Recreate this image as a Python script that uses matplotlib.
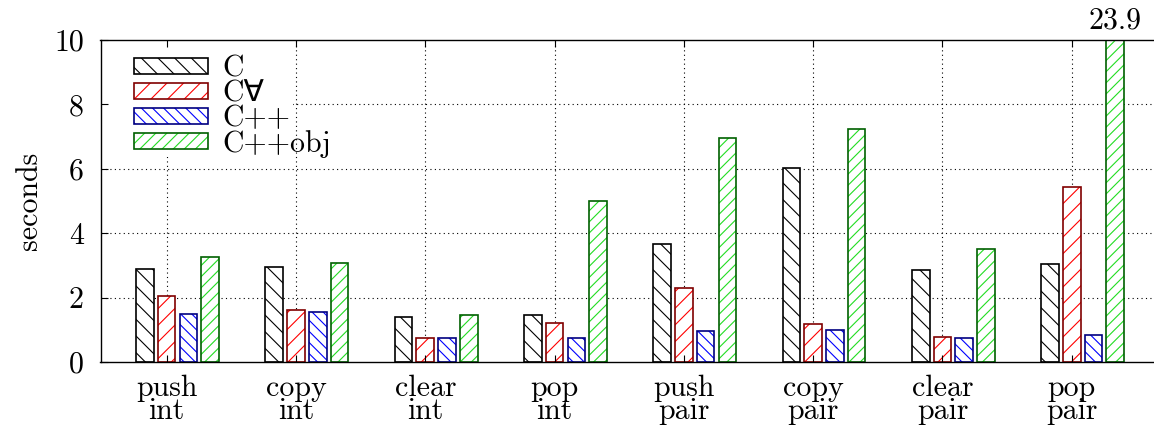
import numpy as np
import matplotlib
matplotlib.use("Agg")
import matplotlib.pyplot as plt
from matplotlib.patches import Rectangle

plt.rcParams['font.family'] = ['cmr10', 'DejaVu Sans']
plt.rcParams['mathtext.fontset'] = 'cm'
plt.rcParams['axes.formatter.use_mathtext'] = True
plt.rcParams['hatch.linewidth'] = 0.8

categories = ["push\nint", "copy\nint", "clear\nint", "pop\nint",
              "push\npair", "copy\npair", "clear\npair", "pop\npair"]
series = ["C", "C\u2200", "C++", "C++obj"]
vals_c      = [2.90, 2.95, 1.40, 1.45, 3.67, 6.03, 2.85, 3.03]
vals_cfa    = [2.05, 1.63, 0.75, 1.20, 2.30, 1.18, 0.77, 5.42]
vals_cpp    = [1.50, 1.55, 0.75, 0.75, 0.95, 1.00, 0.75, 0.83]
vals_cppobj = [3.25, 3.07, 1.45, 5.00, 6.97, 7.23, 3.52, 23.9]
all_vals = [vals_c, vals_cfa, vals_cpp, vals_cppobj]

hatch_colors = ["#000000", "#ff0000", "#0000ff", "#22dd22"]
edge_colors = ["#000000", "#800000", "#000080", "#006000"]
hatches = ["\\\\", "//", "\\\\\\", "///"]

FS = 21.5
fig = plt.figure(figsize=(11.54, 4.33), dpi=100)
ax = fig.add_axes([100.5/1154, 71/433, 1 - 100.5/1154, 322/433])

x = np.arange(len(categories))
step = 0.168
width = 0.136
handles = []
for i, (vals, hc, ec, h, name) in enumerate(zip(all_vals, hatch_colors, edge_colors, hatches, series)):
    pos = x + (i - 1) * step
    b1 = ax.bar(pos, vals, width, color="white", edgecolor=hc, hatch=h, linewidth=0, zorder=2)
    b2 = ax.bar(pos, vals, width, fill=False, edgecolor=ec, linewidth=1.2, zorder=2.1)
    handles.append((b1[0], b2[0]))

ax.set_xlim(-0.512, 7.636)
ax.set_ylim(0, 10)
ax.set_xticks(x)
ax.set_xticklabels(categories, fontsize=FS, linespacing=0.8)
ax.set_yticks([0, 2, 4, 6, 8, 10])
ax.set_yticklabels(["0", "2", "4", "6", "8", "10"], fontsize=FS)
ax.tick_params(axis='x', direction='in', top=True, bottom=True, length=5, width=0.8, pad=9)
ax.tick_params(axis='y', direction='in', left=True, right=False, length=5, width=0.8, pad=12)
ax.spines['right'].set_visible(False)
for s in ['left', 'top', 'bottom']:
    ax.spines[s].set_linewidth(1.0)

# grid behind the bars
for yv in [2, 4, 6, 8]:
    ax.axhline(yv, color="black", linestyle=(0, (1, 3)), linewidth=0.8, zorder=0.5)
for xv in x:
    ax.axvline(xv, color="black", linestyle=(0, (1, 3)), linewidth=0.8, zorder=0.5)
ax.set_axisbelow(False)

# white key box covering the grid
ax.add_patch(Rectangle((0, 0.637), 0.1827, 0.363, transform=ax.transAxes,
                       facecolor="white", edgecolor="none", zorder=1))

ax.set_ylabel("seconds", fontsize=FS, labelpad=8)

# clipped value label
ax.annotate("23.9", xy=(x[-1] + 2 * step, 10), xytext=(0, 4), textcoords="offset points",
            ha="center", va="bottom", fontsize=FS, annotation_clip=False)

leg = ax.legend(handles, series, loc="upper left", bbox_to_anchor=(0.018, 1.0),
                fontsize=FS, frameon=False, handlelength=2.45, handleheight=0.46,
                handletextpad=0.5, labelspacing=-0.08, borderaxespad=0.2, borderpad=0.3)
leg.set_zorder(2.2)

fig.savefig("out.png", dpi=100)
